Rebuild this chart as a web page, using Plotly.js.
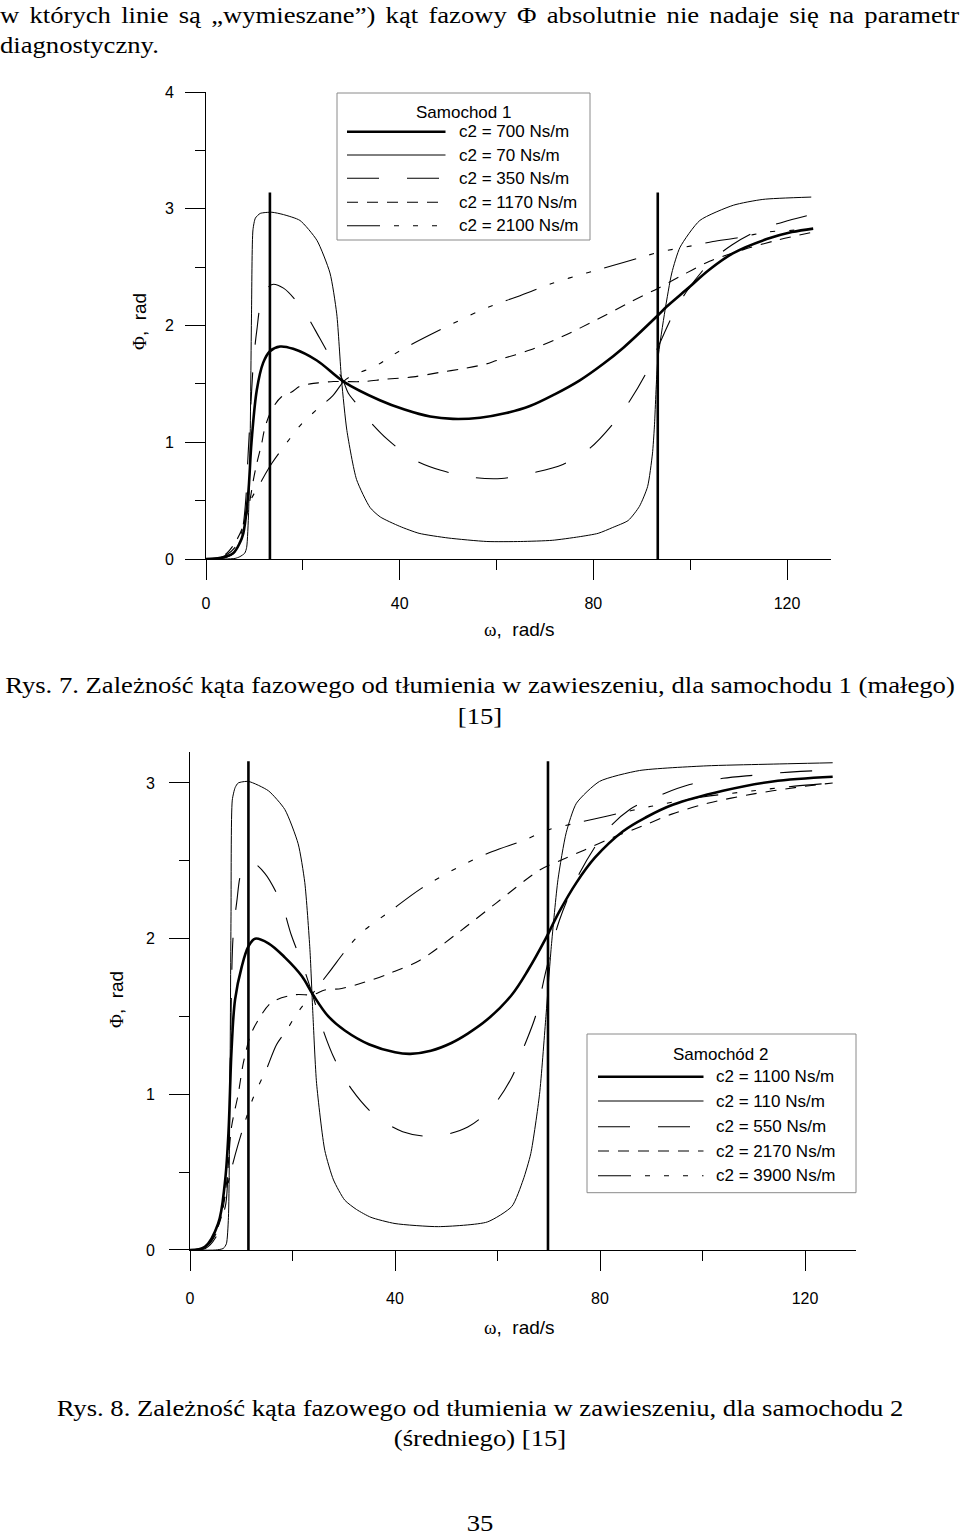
<!DOCTYPE html>
<html><head><meta charset="utf-8">
<script src="https://cdn.plot.ly/plotly-3.0.1.min.js"></script>
<style>
html,body{margin:0;padding:0;background:#fff;}
#page{position:relative;width:960px;height:1535px;overflow:hidden;background:#fff;}
#chart{position:absolute;left:0;top:0;width:960px;height:1535px;}
.t{position:absolute;font-family:"Liberation Serif","Times New Roman",serif;font-size:24px;color:#000;line-height:1;white-space:nowrap;}
.l{left:0;transform:scaleX(1.11);transform-origin:0 0;}
.c{left:0;width:960px;text-align:center;transform:scaleX(1.11);transform-origin:480px 0;}
</style></head>
<body><div id="page"><div id="chart"></div>
<div class="t l" style="top:3px;width:864px;white-space:normal;text-align:justify;text-align-last:justify;">w których linie są „wymieszane”) kąt fazowy Φ absolutnie nie nadaje się na parametr</div>
<div class="t l" style="top:33px;">diagnostyczny.</div>
<div class="t c" style="top:673px;">Rys. 7. Zależność kąta fazowego od tłumienia w zawieszeniu, dla samochodu 1 (małego)</div>
<div class="t c" style="top:704px;">[15]</div>
<div class="t c" style="top:1396px;">Rys. 8. Zależność kąta fazowego od tłumienia w zawieszeniu, dla samochodu 2</div>
<div class="t c" style="top:1426px;">(średniego) [15]</div>
<div class="t c" style="top:1511px;">35</div>
</div>
<script>
// ---------- Data: Rys. 7 (Samochod 1) ----------
const omega1_c700 = [0,3,5.6,7,7.7,8.7,9.4,10.5,11.8,13.2,15.3,18,22.9,28.4,35.9,41,46.3,51,56.6,62,66.9,72,77.2,82,86.2,93.4,95.1,99.3,104,108.9,115.8,121,125.4];
const phi1_c700   = [0,0.01,0.05,0.14,0.22,0.55,1.0,1.45,1.68,1.78,1.82,1.80,1.70,1.52,1.36,1.28,1.22,1.20,1.21,1.25,1.31,1.41,1.53,1.67,1.81,2.09,2.16,2.31,2.48,2.62,2.74,2.80,2.83];

const omega1_c70 = [0,4,6,7,8,8.4,8.8,9.1,9.4,9.7,10.2,11.2,13.6,16,19.4,22.9,25.6,27,28,29.1,31.1,33.9,36,40,44,50,58,65,71.5,77,81,84,87.2,89.5,91.2,92.2,92.6,93.3,94.8,96.2,97.9,102,108.9,115,125];
const phi1_c70   = [0,0,0.005,0.02,0.05,0.1,0.4,0.96,2.1,2.82,2.92,2.96,2.97,2.95,2.90,2.73,2.45,2.1,1.53,1.1,0.68,0.44,0.36,0.28,0.22,0.18,0.15,0.15,0.16,0.19,0.22,0.27,0.33,0.45,0.62,0.9,1.13,1.7,2.13,2.45,2.67,2.90,3.03,3.08,3.10];

const omega1_c350 = [0,4,6,7.5,8.2,8.7,9.4,9.8,10.5,11.5,13.5,16,20.1,23.5,26.6,28.4,29.4,31.3,33.2,37.6,43,48.5,55,61,67.7,73.7,79.3,83.9,87.6,91,93.4,96.9,99.4,104.1,108.6,114.4,120.3,125];
const phi1_c350   = [0,0.01,0.06,0.25,0.5,0.9,1.42,1.69,1.96,2.22,2.35,2.32,2.13,1.89,1.66,1.52,1.42,1.32,1.21,1.02,0.85,0.76,0.70,0.69,0.74,0.81,0.95,1.15,1.36,1.60,1.82,2.13,2.30,2.54,2.69,2.82,2.90,2.95];

const omega1_c1170 = [0,2.5,4.3,6.3,8.1,9.1,9.8,10.5,11.5,12.2,13.6,15.6,17.7,19.4,21.5,23.5,26.3,28.4,32.5,37,42.8,48.5,53.1,57.8,60,66.9,73.8,80.7,87.6,93.4,97.9,104,111,117.9,125.4];
const phi1_c1170   = [0,0.01,0.05,0.16,0.33,0.51,0.68,0.82,0.99,1.13,1.28,1.39,1.43,1.48,1.50,1.51,1.52,1.52,1.52,1.54,1.56,1.60,1.63,1.67,1.70,1.79,1.91,2.05,2.20,2.32,2.42,2.55,2.65,2.73,2.80];

const omega1_c2100 = [0,2,4,6,7.5,9.1,11.2,13.6,17.3,19.8,22.9,26.2,28.4,29.7,35.3,38.7,42.1,46.3,49.7,56.2,59.7,63.8,67.6,71.4,78.6,82,86.2,90.3,93.8,101.3,104.7,109.6,115.9,122.7,125];
const phi1_c2100   = [0,0,0.03,0.1,0.25,0.49,0.65,0.82,1.03,1.16,1.28,1.40,1.52,1.56,1.66,1.75,1.83,1.92,1.99,2.12,2.18,2.24,2.30,2.36,2.45,2.49,2.54,2.59,2.63,2.69,2.72,2.75,2.80,2.82,2.83];

const resonance1 = [13.2, 93.3];

// ---------- Data: Rys. 8 (Samochod 2) ----------
const omega2_c1100 = [0,2.9,5.5,6.8,7.5,8.1,8.8,10.1,11.4,12.7,15.3,18.5,21.8,24,27,30.2,35,40,43,47,51,54.2,58,62.8,66,69.4,72,75.4,79,84.5,89,94.2,104,113.7,125.4];
const phi2_c1100   = [0,0.02,0.17,0.43,0.75,1.28,1.61,1.82,1.95,2.0,1.97,1.88,1.76,1.64,1.50,1.41,1.32,1.27,1.26,1.28,1.33,1.39,1.48,1.64,1.80,2.00,2.17,2.36,2.52,2.69,2.78,2.86,2.95,3.01,3.04];

const omega2_c110 = [0,5,6.5,7.1,7.5,7.8,8.0,8.25,8.8,9.4,11.4,15.3,18.5,21.1,22.4,23.4,24,24.7,26.3,28,30.2,32.5,35.3,40,48.5,58,62.8,65,66.5,68.2,69.4,70.5,71.8,73.4,75.4,79.9,87.7,100.7,112,125.4];
const phi2_c110   = [0,0,0.01,0.04,0.21,1.07,2.14,2.89,2.97,3.0,3.01,2.95,2.83,2.61,2.36,1.93,1.50,1.07,0.64,0.45,0.32,0.26,0.21,0.17,0.15,0.18,0.28,0.45,0.62,1.0,1.48,1.95,2.38,2.68,2.87,3.01,3.08,3.11,3.12,3.13];

const omega2_c550 = [0,3,5,6.2,7,7.5,7.9,8.4,9.1,10.2,12.0,14.6,17.9,19.8,22.1,24,26,28.3,31.6,35.9,41.5,47.6,54.2,59,62.8,65.1,67.4,69.5,72.1,76,81.2,85.8,91.6,97.5,104,110,117,123,125.4];
const phi2_c550   = [0,0.01,0.08,0.2,0.3,0.6,1.3,2.01,2.23,2.44,2.49,2.42,2.22,2.02,1.82,1.63,1.41,1.22,1.03,0.87,0.76,0.73,0.79,0.92,1.11,1.30,1.50,1.8,2.12,2.42,2.69,2.83,2.92,2.99,3.03,3.05,3.07,3.08,3.08];

const omega2_c2170 = [0,2.5,4,6,7.2,8.1,9.4,10.4,11.7,13,15.9,20.5,24,26.3,29.6,34,39.2,44.8,52.4,59.8,68.2,72.8,77,82.5,88,94,101,110,118,125.4];
const phi2_c2170   = [0,0.01,0.05,0.2,0.45,0.79,1.0,1.2,1.37,1.46,1.59,1.64,1.64,1.67,1.68,1.72,1.78,1.86,2.04,2.23,2.44,2.51,2.57,2.65,2.72,2.80,2.87,2.93,2.97,3.00];

const omega2_c3900 = [0,3,5,6.5,8.4,9.4,10.7,12,13.3,14.9,16.9,18.8,21.1,24,27.5,30.5,33.5,39.2,45,52.4,59,65,70,75,81.7,90,100,110,118,125.4];
const phi2_c3900   = [0,0.02,0.1,0.3,0.56,0.68,0.82,0.95,1.05,1.16,1.32,1.41,1.53,1.65,1.80,1.93,2.04,2.18,2.32,2.46,2.56,2.63,2.70,2.74,2.79,2.85,2.91,2.95,2.98,3.0];

const resonance2 = [11.4, 69.85];
const resonanceTop = 3.14;

// ---------- Text ----------
const legendTitle1 = 'Samochod 1';
const legendLabels1 = ['c2 = 700 Ns/m','c2 = 70 Ns/m','c2 = 350 Ns/m','c2 = 1170 Ns/m','c2 = 2100 Ns/m'];
const legendTitle2 = 'Samochód 2';
const legendLabels2 = ['c2 = 1100 Ns/m','c2 = 110 Ns/m','c2 = 550 Ns/m','c2 = 2170 Ns/m','c2 = 3900 Ns/m'];
const xTickVals = [0,40,80,120];
const yTickVals1 = [0,1,2,3,4];
const yTickVals2 = [0,1,2,3];

// ---------- Styles ----------
const SERIF = '"Liberation Serif","Times New Roman",serif';
const SANS = '"Liberation Sans",Arial,sans-serif';
const lineStyles = [
  {width:2.6, dash:'solid', smoothing:1.0},
  {width:1.0, dash:'solid', smoothing:0.6},
  {width:1.1, dash:'32px,28px', smoothing:0.9},
  {width:1.1, dash:'11px,9px', smoothing:0.9},
  {width:1.1, dash:'33px,14px,5px,14px,5px,14px,5px,14px', smoothing:0.9}
];
const W = 960, H = 1535;
const fx = p => p / W;
const fy = p => 1 - p / H;

const series1 = [[omega1_c700,phi1_c700],[omega1_c70,phi1_c70],[omega1_c350,phi1_c350],[omega1_c1170,phi1_c1170],[omega1_c2100,phi1_c2100]];
const series2 = [[omega2_c1100,phi2_c1100],[omega2_c110,phi2_c110],[omega2_c550,phi2_c550],[omega2_c2170,phi2_c2170],[omega2_c3900,phi2_c3900]];

const traces = [];
function addSeries(series, labels, xa, ya) {
  series.forEach((s, i) => {
    traces.push({
      type:'scatter', mode:'lines', x:s[0], y:s[1], name:labels[i], xaxis:xa, yaxis:ya,
      line:{color:'#000', width:lineStyles[i].width, dash:lineStyles[i].dash, shape:'spline', smoothing:lineStyles[i].smoothing},
      hoverinfo:'skip'
    });
  });
}
function addResonance(vals, xa, ya) {
  const x = [], y = [];
  vals.forEach(v => { x.push(v, v, null); y.push(0, resonanceTop, null); });
  traces.push({type:'scatter', mode:'lines', x, y, xaxis:xa, yaxis:ya, line:{color:'#000', width:2.6}, hoverinfo:'skip', showlegend:false});
}
addSeries(series1, legendLabels1, 'x', 'y');
addResonance(resonance1, 'x', 'y');
addSeries(series2, legendLabels2, 'x2', 'y2');
addResonance(resonance2, 'x2', 'y2');

const axBase = {
  showline:true, linecolor:'#000', linewidth:1, ticks:'outside', ticklen:20, tickwidth:1, tickcolor:'#000',
  showgrid:false, zeroline:false, fixedrange:true, tickmode:'array',
  tickfont:{family:SANS, size:16, color:'#000'}
};
const minorBase = {ticks:'outside', ticklen:10, tickwidth:1, tickcolor:'#000', showgrid:false};

const layout = {
  width:W, height:H, margin:{l:0,r:0,t:0,b:0}, showlegend:false,
  paper_bgcolor:'rgba(0,0,0,0)', plot_bgcolor:'rgba(0,0,0,0)',
  font:{family:SANS, size:16, color:'#000'},
  xaxis: Object.assign({}, axBase, {domain:[fx(206), fx(206+129*4.842)], range:[0,129], anchor:'y', tickvals:xTickVals, ticklabelstandoff:10, minor:Object.assign({dtick:20, tick0:0}, minorBase)}),
  yaxis: Object.assign({}, axBase, {domain:[fy(559), fy(92)], range:[0,4], anchor:'x', tickvals:yTickVals1, ticklabelstandoff:8, minor:Object.assign({dtick:0.5, tick0:0}, minorBase)}),
  xaxis2: Object.assign({}, axBase, {domain:[fx(190), fx(190+130*5.125)], range:[0,130], anchor:'y2', tickvals:xTickVals, ticklabelstandoff:14, minor:Object.assign({dtick:20, tick0:0}, minorBase)}),
  yaxis2: Object.assign({}, axBase, {domain:[fy(1250), fy(1250-3.2*155.67)], range:[0,3.2], anchor:'x2', tickvals:yTickVals2, ticklabelstandoff:11, minor:Object.assign({dtick:0.5, tick0:0}, minorBase)}),
  shapes:[], annotations:[]
};

function ann(x, y, text, opts) {
  layout.annotations.push(Object.assign({xref:'paper', yref:'paper', x:fx(x), y:fy(y), text, showarrow:false,
    xanchor:'center', yanchor:'middle', font:{family:SANS, size:17, color:'#000'}}, opts || {}));
}
const omegaTitle = '<span style="font-family:\'Liberation Serif\',serif">ω</span>,\u00a0\u00a0rad/s';
const phiTitle = '<span style="font-family:\'Liberation Serif\',serif">Φ</span>,\u00a0\u00a0rad';
ann(519, 630, omegaTitle, {font:{family:SANS, size:19, color:'#000'}});
ann(140, 322, phiTitle, {textangle:-90, font:{family:SANS, size:19, color:'#000'}});
ann(519, 1327, omegaTitle, {font:{family:SANS, size:19, color:'#000'}});
ann(117, 1000, phiTitle, {textangle:-90, font:{family:SANS, size:19, color:'#000'}});

function legend(box, title, titleY, titleX, rows, sx0, sx1, tx, labels) {
  layout.shapes.push({type:'rect', xref:'paper', yref:'paper', x0:fx(box[0]), x1:fx(box[1]), y0:fy(box[2]), y1:fy(box[3]),
    line:{color:'#8a8a8a', width:1}, fillcolor:'rgba(255,255,255,0)'});
  ann(titleX, titleY, title);
  rows.forEach((ry, i) => {
    layout.shapes.push({type:'line', xref:'paper', yref:'paper', x0:fx(sx0), x1:fx(sx1), y0:fy(ry), y1:fy(ry),
      line:{color:'#000', width:lineStyles[i].width, dash:lineStyles[i].dash}});
    ann(tx, ry, labels[i], {xanchor:'left'});
  });
}
legend([337,590,93,240], legendTitle1, 112, 463, [131.7,155,178.3,202.3,225.7], 347, 445.5, 457, legendLabels1);
legend([587,856,1034,1192.7], legendTitle2, 1054, 720.5, [1076.7,1101,1126.7,1151,1175.7], 598, 703.5, 714, legendLabels2);

Plotly.newPlot('chart', traces, layout, {staticPlot:true, displayModeBar:false});
</script>
</body></html>
